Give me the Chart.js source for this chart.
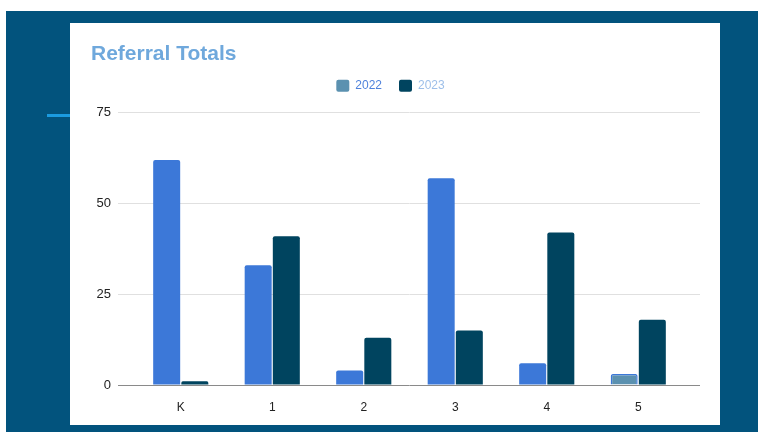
<!DOCTYPE html>
<html>
<head>
<meta charset="utf-8">
<script src="https://cdn.jsdelivr.net/npm/chart.js@4"></script>
<style>
  body { margin: 0; width: 758px; height: 432px; background: #fff; position: relative; overflow: hidden; }
  .slide { position: absolute; left: 6px; top: 11px; right: 0; bottom: 0; background: #02537d; }
  .accent { position: absolute; left: 47px; top: 114px; width: 23px; height: 3px; background: #1b9be0; }
  .card { position: absolute; left: 70px; top: 23px; width: 650px; height: 402px; background: #fff; }
</style>
</head>
<body>
<div class="slide"></div>
<div class="accent"></div>
<div class="card"><canvas id="myChart" width="650" height="402"></canvas></div>
<script>
const categories = ["K", "1", "2", "3", "4", "5"];
const totals2022 = [62, 33, 4, 57, 6, 3];
const totals2023 = [1, 41, 13, 15, 42, 18];
const seriesNames = ["2022", "2023"];

const blue2022 = "#3c78d8";
const steel2022 = "#5b91b0";
const teal2023 = "#00445f";
const legendSwatch = [steel2022, teal2023];
const legendText = ["#4f82dc", "#9dbfe9"];

const ctx = document.getElementById("myChart");

// last 2022 bar is drawn in the steel colour with a blue outline
const lastIdx = categories.length - 1;
const fill2022 = categories.map((c, i) => i === lastIdx ? steel2022 : blue2022);
const border2022 = categories.map((c, i) => i === lastIdx ? 1.5 : 0);

const gridColor = (c) => (c.tick && c.tick.value === 0) ? "#8a8a8a" : "#e0e0e0";

const myChart = new Chart(ctx, {
    type: "bar",
    data: {
        labels: categories,
        datasets: [
            {
                label: seriesNames[0],
                data: totals2022,
                backgroundColor: fill2022,
                borderColor: blue2022,
                borderWidth: border2022,
                borderRadius: 2
            },
            {
                label: seriesNames[1],
                data: totals2023,
                backgroundColor: teal2023,
                borderColor: teal2023,
                borderWidth: 0,
                borderRadius: 2
            }
        ]
    },
    options: {
        responsive: false,
        animation: false,
        categoryPercentage: 0.615,
        barPercentage: 0.96,
        layout: { padding: { top: 0, left: 21, right: 30, bottom: 0 } },
        scales: {
            x: {
                grid: { display: false },
                border: { display: false },
                ticks: { color: "#222", padding: 7, font: { family: "Arial, 'Liberation Sans'", size: 12 } },
                afterFit: (scale) => { scale.height = 40; }
            },
            xTop: {
                type: "category",
                position: "top",
                grid: { display: false },
                border: { display: false },
                ticks: { display: false },
                afterFit: (scale) => { scale.height = 11; }
            },
            y: {
                min: 0,
                max: 75,
                border: { display: false },
                grid: { color: gridColor, drawTicks: true, tickLength: 17 },
                ticks: { stepSize: 25, padding: 7, color: "#222", font: { family: "Arial, 'Liberation Sans'", size: 13 } },
                afterFit: (scale) => { scale.width = 44; }
            },
            // right side axis only used to carry the gridlines past the bars
            y2: {
                type: "linear",
                position: "right",
                min: 0,
                max: 75,
                border: { display: false },
                grid: { color: gridColor, drawOnChartArea: false, drawTicks: true, tickLength: 16 },
                ticks: { stepSize: 25, display: false },
                afterFit: (scale) => { scale.width = 6; }
            }
        },
        plugins: {
            title: {
                display: true,
                text: "Referral Totals",
                align: "start",
                color: "#6fa8dc",
                font: { family: "Arial, 'Liberation Sans'", size: 21, weight: "bold", lineHeight: 0.8 },
                padding: { top: 23, bottom: 0 }
            },
            legend: {
                position: "top",
                labels: {
                    boxWidth: 13,
                    boxHeight: 12,
                    padding: 17,
                    useBorderRadius: true,
                    borderRadius: 2,
                    font: { family: "Arial, 'Liberation Sans'", size: 12 },
                    generateLabels: (chart) => chart.data.datasets.map((ds, i) => ({
                        text: ds.label,
                        fillStyle: legendSwatch[i],
                        strokeStyle: legendSwatch[i],
                        lineWidth: 0,
                        fontColor: legendText[i],
                        datasetIndex: i,
                        hidden: false,
                        borderRadius: 2
                    }))
                }
            },
            tooltip: { enabled: false }
        }
    }
});
</script>
</body>
</html>
